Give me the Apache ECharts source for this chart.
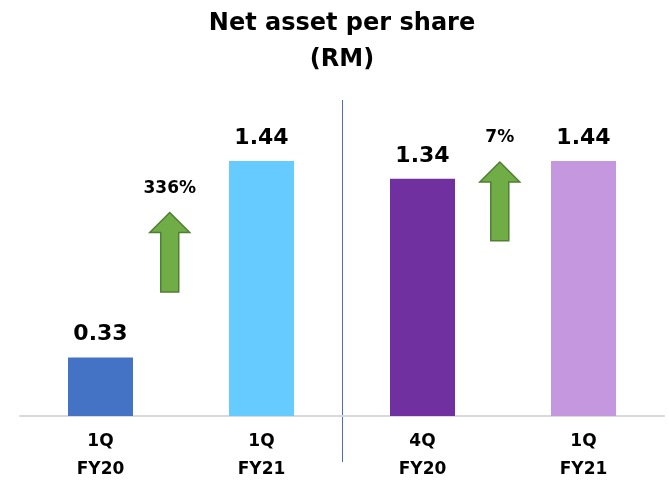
<!DOCTYPE html>
<html>
<head>
<meta charset="utf-8">
<script src="https://cdn.jsdelivr.net/npm/echarts@6/dist/echarts.min.js"></script>
<style>
  html, body { margin: 0; padding: 0; background: #fff; }
  #chart { width: 669px; height: 482px; }
</style>
</head>
<body>
<div id="chart"></div>
<script>
const categories = ['1Q\nFY20', '1Q\nFY21', '4Q\nFY20', '1Q\nFY21']
const values = [0.33, 1.44, 1.34, 1.44]
const barColors = ['#4472C4', '#66CCFF', '#7030A0', '#C497DF']

// growth arrows: x position in category units, value span, label
const arrowX = [0.43, 2.48]
const growthLabels = ['336%', '7%']
const arrowBottoms = [0.70, 0.99]
const arrowTops = [1.15, 1.435]

const FONT = '"DejaVu Sans", sans-serif'

const chart = echarts.init(document.getElementById('chart'))

chart.setOption({
  backgroundColor: '#fff',
  animation: false,
  title: {
    text: 'Net asset per share\n(RM)',
    left: 337,
    top: 1,
    textAlign: 'center',
    textStyle: { fontFamily: FONT, fontWeight: 'bold', fontSize: 24, lineHeight: 36, color: '#000' }
  },
  grid: { left: 20, right: 5, top: 62, bottom: 66, outerBoundsMode: 'none' },
  xAxis: {
    type: 'category',
    data: categories,
    axisLine: { lineStyle: { color: '#D9D9D9', width: 2 } },
    axisTick: { show: false },
    axisLabel: {
      margin: 12, fontFamily: FONT, fontWeight: 'bold', fontSize: 17, lineHeight: 28, color: '#000'
    }
  },
  yAxis: {
    type: 'value', min: 0, max: 2,
    show: false
  },
  series: [{
    type: 'bar',
    barWidth: 65,
    data: values.map((v, i) => ({ value: v, itemStyle: { color: barColors[i] } })),
    label: {
      show: true, position: 'top', distance: 12,
      fontFamily: FONT, fontWeight: 'bold', fontSize: 22, color: '#000'
    }
  }]
})

function drawAnnotations() {
  const px = i => chart.convertToPixel({ xAxisIndex: 0 }, i)
  const py = v => chart.convertToPixel({ yAxisIndex: 0 }, v)
  const step = px(1) - px(0)
  const elements = []

  // divider between the two comparisons
  const divX = Math.round((px(1) + px(2)) / 2) + 0.5
  elements.push({
    type: 'line',
    shape: { x1: divX, y1: 100, x2: divX, y2: 462 },
    style: { stroke: '#4A6FB5', lineWidth: 1 }
  })

  arrowX.forEach((ax, k) => {
    const cx = px(0) + ax * step
    const top = py(arrowTops[k])
    const bottom = py(arrowBottoms[k])
    const hw = 20, sw = 9, hh = 20
    elements.push({
      type: 'polygon',
      shape: {
        points: [
          [cx, top], [cx + hw, top + hh], [cx + sw, top + hh], [cx + sw, bottom],
          [cx - sw, bottom], [cx - sw, top + hh], [cx - hw, top + hh]
        ]
      },
      style: { fill: '#70AD47', stroke: '#507E32', lineWidth: 1.5 }
    })
    elements.push({
      type: 'text',
      x: cx, y: top - 24,
      style: {
        text: growthLabels[k], align: 'center', verticalAlign: 'middle',
        font: 'bold 17px ' + FONT, fill: '#000'
      }
    })
  })

  chart.setOption({ graphic: elements })
}

drawAnnotations()
</script>
</body>
</html>
